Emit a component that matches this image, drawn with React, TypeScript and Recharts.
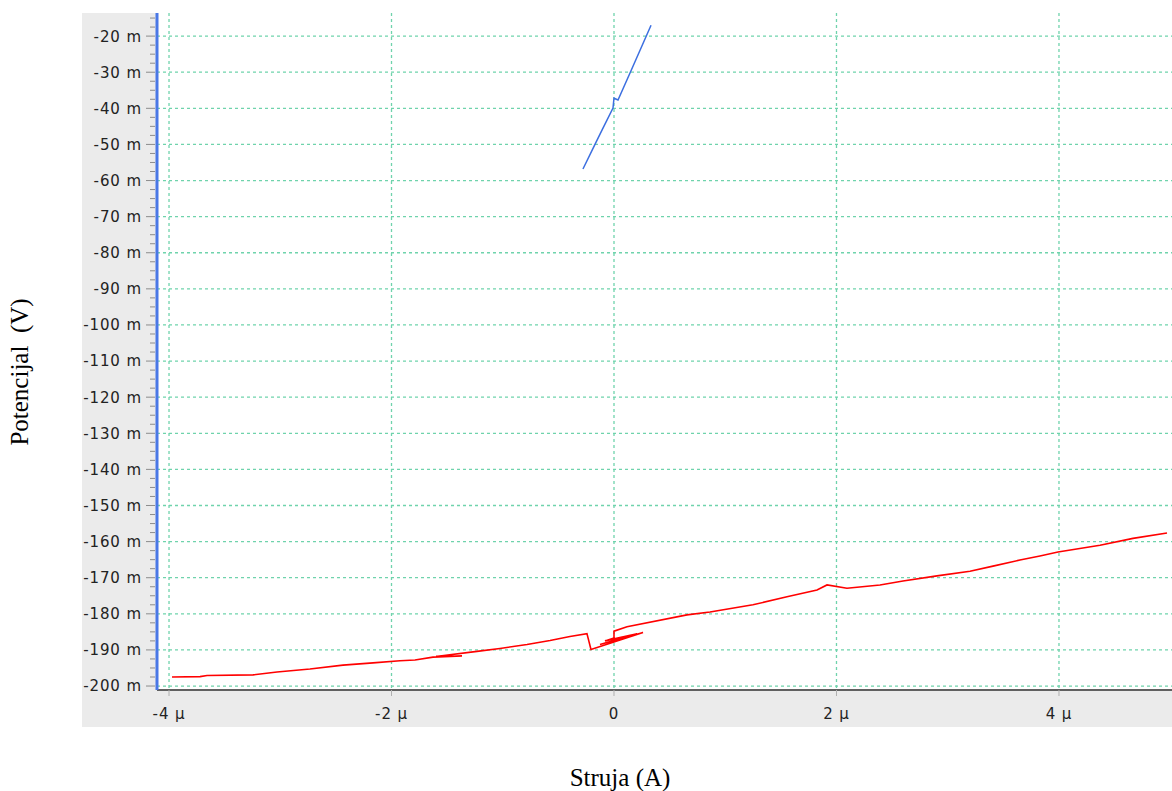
import React from "react";
import { LineChart, Line, XAxis, YAxis, CartesianGrid } from "recharts";

// Struja (µA) / Potencijal (mV)
const redX = [
  -3.973, -3.721, -3.658, -3.245, -3.029, -2.733, -2.436, -2.166, -1.924, -1.789,
  -1.627, -1.366, -1.6, -1.231, -1.025, -0.782, -0.575, -0.396, -0.243, -0.207,
  0.261, -0.126, 0.207, -0.081, 0.0, 0.0, 0.117, 0.656, 0.863, 1.249,
  1.555, 1.825, 1.915, 2.094, 2.391, 2.598, 2.903, 3.2, 3.407, 3.649,
  3.829, 3.991, 4.369, 4.665, 4.971,
];
const redY = [
  -197.5, -197.4, -197.1, -196.9, -196.1, -195.3, -194.2, -193.6, -193.0, -192.8,
  -192.0, -191.7, -191.8, -190.4, -189.6, -188.5, -187.4, -186.3, -185.5, -189.9,
  -185.2, -188.5, -185.5, -187.5, -186.7, -184.8, -183.6, -180.3, -179.5, -177.5,
  -175.3, -173.4, -172.0, -172.9, -172.0, -170.9, -169.5, -168.2, -166.8, -165.1,
  -164.0, -162.9, -161.0, -159.1, -157.6,
];

const blueX = [-0.279, -0.171, -0.099, -0.009, 0.0, 0.036, 0.15, 0.333];
const blueY = [-56.8, -50.0, -45.5, -39.9, -37.2, -37.7, -29.8, -17.0];

const xTicks = [-4, -2, 0, 2, 4];
const yMajor = [-200, -190, -180, -170, -160, -150, -140, -130, -120, -110, -100, -90, -80, -70, -60, -50, -40, -30, -20];

const yTicks: number[] = [];
for (let v = -200; v <= -15; v += 2.5) yTicks.push(v);

const redData = redX.map((x, i) => ({ x, y: redY[i] }));
const blueData = blueX.map((x, i) => ({ x, y: blueY[i] }));

const tickFont = { fontFamily: "DejaVu Sans", fontSize: 15, letterSpacing: 0.9, fill: "#222" };

const YTick = (props: any) => {
  const { y, payload } = props;
  const v = payload.value as number;
  const major = Math.abs(v % 10) < 1e-6;
  return (
    <g>
      <line x1={major ? 146 : 150} x2={155} y1={y} y2={y} stroke="#8c8c8c" />
      {major && (
        <text x={142} y={y} dy="0.36em" textAnchor="end" {...tickFont}>
          {`${v} m`}
        </text>
      )}
    </g>
  );
};

const titleStyle: React.CSSProperties = {
  position: "absolute",
  whiteSpace: "pre",
  fontFamily: "Liberation Serif",
  fontSize: 25,
  color: "#000",
};

export default function App() {
  return (
    <div style={{ position: "absolute", left: 0, top: 0, width: 1172, height: 791, background: "#fff" }}>
      <div style={{ position: "absolute", left: 82, top: 13, width: 1090, height: 714, background: "#ebebeb" }} />
      <div style={{ position: "absolute", left: 0, top: 0 }}>
        <LineChart width={1172} height={791} margin={{ top: 13, right: 0, bottom: 61, left: 0 }}>
          <CartesianGrid
            fill="#fff"
            stroke="#6fd3ac"
            strokeWidth={1.3}
            strokeDasharray="3 3"
            horizontalValues={yMajor}
            verticalValues={xTicks}
          />
          <XAxis
            type="number"
            dataKey="x"
            domain={[-4.108, 5.016]}
            allowDataOverflow
            ticks={xTicks}
            tickFormatter={(v: number) => (v === 0 ? "0" : `${v} μ`)}
            height={40}
            tickSize={6}
            tickMargin={12}
            tick={tickFont}
            tickLine={{ stroke: "#b0b0b0" }}
            axisLine={{ stroke: "#606060", strokeWidth: 2 }}
          />
          <YAxis
            type="number"
            dataKey="y"
            domain={[-201.1, -13.6]}
            allowDataOverflow
            ticks={yTicks}
            interval={0}
            width={157}
            tickLine={false}
            tick={<YTick />}
            axisLine={{ stroke: "#4a78e6", strokeWidth: 3 }}
          />
          <Line
            data={redData}
            dataKey="y"
            type="linear"
            stroke="#ff0000"
            strokeWidth={1.6}
            dot={false}
            isAnimationActive={false}
          />
          <Line
            data={blueData}
            dataKey="y"
            type="linear"
            stroke="#3c6fe0"
            strokeWidth={1.5}
            dot={false}
            isAnimationActive={false}
          />
        </LineChart>
      </div>
      <div style={{ ...titleStyle, left: 20, top: 372, transform: "translate(-50%, -50%) rotate(-90deg)" }}>
        {"Potencijal  (V)"}
      </div>
      <div style={{ ...titleStyle, left: 620, top: 778, transform: "translate(-50%, -50%)" }}>
        Struja (A)
      </div>
    </div>
  );
}
